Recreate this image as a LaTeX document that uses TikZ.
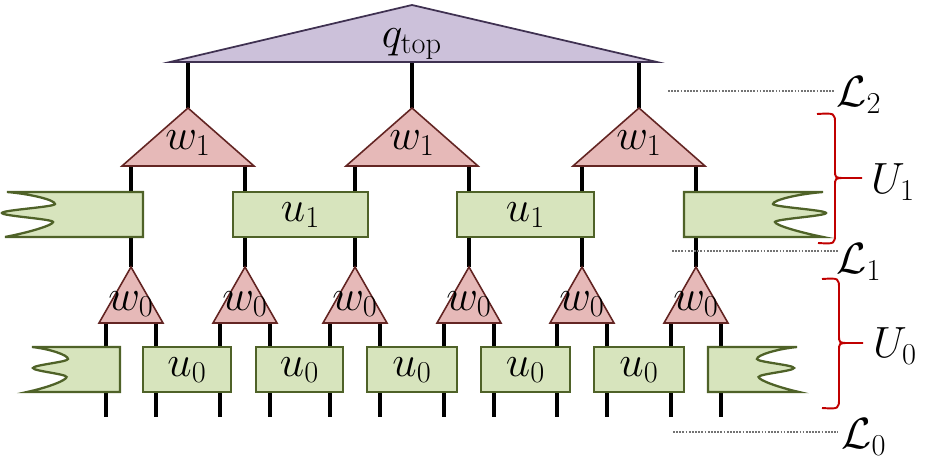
\documentclass[tikz,border=0pt]{standalone}
\usepackage{amsmath, amssymb}
\usetikzlibrary{calc}
\definecolor{boxfill}{HTML}{D7E4BD}
\definecolor{boxline}{HTML}{4F6228}
\definecolor{trifill}{HTML}{E6B9B8}
\definecolor{triline}{HTML}{632523}
\definecolor{topfill}{HTML}{CCC1DA}
\definecolor{topline}{HTML}{3F3151}
\definecolor{bracered}{HTML}{C00000}
\tikzset{
  leg/.style={line width=2.3pt},
  ubox/.style={draw=boxline,fill=boxfill,line width=1.3pt},
  wtri/.style={draw=triline,fill=trifill,line width=0.9pt,line join=miter},
  qtri/.style={draw=topline,fill=topfill,line width=1pt},
  lvl/.style={gray!90!black,line width=1.1pt,dash pattern=on 1pt off 0.8pt},
  brc/.style={draw=bracered,line width=1.1pt},
  lab/.style={font=\fontsize{25}{30}\selectfont,inner sep=0pt},
  slab/.style={font=\fontsize{23}{28}\selectfont,inner sep=0pt}
}
\begin{document}
\begin{tikzpicture}[x=0.02cm,y=-0.02cm]
\useasboundingbox (0,0) rectangle (937,463);
\foreach \c [count=\i] in {188,412,639} {
  \coordinate (top\i) at (\c,62);
  \coordinate (wa\i) at (\c,108);
  \draw[leg] (top\i) -- (wa\i);
  \foreach \s [count=\j] in {-1,1} {
    \coordinate (wb\i\j) at ({\c+57*\s},166);
    \coordinate (va\i\j) at ({\c+57*\s},267);
    \draw[leg] (wb\i\j) -- (va\i\j); } }
\foreach \d [count=\i] in {131,245,355,469,582,696} {
  \foreach \s [count=\j] in {-1,1} {
    \coordinate (vb\i\j) at ({\d+25*\s},323);
    \coordinate (ft\i\j) at ({\d+25*\s},417);
    \draw[leg] (vb\i\j) -- (ft\i\j); } }
\filldraw[qtri] (170,62) -- (412,5) -- (657,62) -- cycle;
\node[lab,font=\fontsize{26}{30}\selectfont] (q) at (412,44) {$q_{\mathrm{top}}$};
\foreach \c [count=\i] in {188,412,639} {
  \filldraw[wtri] ({\c-66},166) -- (\c,108) -- ({\c+66},166) -- cycle;
  \node[lab] (w1\i) at (\c,143) {$w_1$}; }
\foreach \a/\b [count=\i] in {233/368, 457/594} {
  \filldraw[ubox] (\a,192) rectangle (\b,237);
  \node[lab] (u1\i) at ({(\a+\b)/2},215) {$u_1$}; }
\foreach \ox/\oy/\sx/\w/\d/\o/\e in {7/192/1/136/48/-5/-2, 823/192/-1/139/50/-3/0, 32/347/1/88/36/1/-5, 797/347/-1/89/40/3/-2} {
  \begin{scope}[shift={(\ox,\oy)},xscale=\sx]
  \filldraw[ubox] (\w,0) -- (0,0) .. controls ({0.5*\d},2) and (\d,8) .. (\d,12)
    .. controls (\d,15) and (\o,18) .. (\o,21)
    .. controls (\o,24) and ({0.96*\d},27) .. ({0.96*\d},30)
    .. controls ({0.96*\d},33) and ({0.5*\d},40) .. (\e,45) -- (\w,45) -- cycle;
  \end{scope} }
\foreach \d [count=\i] in {131,245,355,469,582,696} {
  \filldraw[wtri] ({\d-32},323) -- (\d,267) -- ({\d+32},323) -- cycle;
  \node[slab] (w0\i) at (\d,304) {$w_0$}; }
\foreach \a/\b [count=\i] in {143/231, 256/343, 367/457, 481/570, 594/684} {
  \filldraw[ubox] (\a,347) rectangle (\b,392);
  \node[lab] (u0\i) at ({(\a+\b)/2},370) {$u_0$}; }
\node[lab] (L2) at (859,95) {$\mathcal{L}_2$};
\node[lab] (L1) at (859,262) {$\mathcal{L}_1$};
\node[lab] (L0) at (864,437) {$\mathcal{L}_0$};
\node[lab] (U1) at (893,182) {$U_1$};
\node[lab] (U0) at (895,346) {$U_0$};
\coordinate (l2a) at (668,91); \coordinate (l2b) at (835,91);
\coordinate (l1a) at (672,251); \coordinate (l1b) at (838,251);
\coordinate (l0a) at (673,432); \coordinate (l0b) at (838,432);
\draw[lvl] (l2a) -- (l2b);
\draw[lvl] (l1a) -- (l1b);
\draw[lvl] (l0a) -- (l0b);
\draw[brc] (817,114) .. controls (835,113) .. (835,124) -- (835,170) .. controls (835,178) .. (845,178) -- (862,178);
\draw[brc] (818,243) .. controls (835,244) .. (835,233) -- (835,186) .. controls (835,178) .. (845,178);
\draw[brc] (822,279) .. controls (839,278) .. (839,289) -- (839,335) .. controls (839,343) .. (849,343) -- (863,343);
\draw[brc] (822,408) .. controls (839,409) .. (839,398) -- (839,351) .. controls (839,343) .. (849,343);
\end{tikzpicture}
\end{document}
